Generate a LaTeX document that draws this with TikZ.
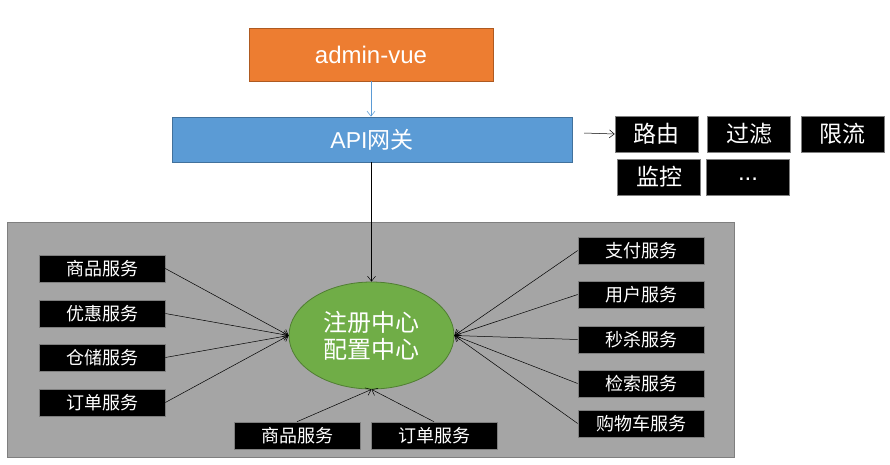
\documentclass[tikz,border=0pt]{standalone}
\usepackage{fontspec}
\setmainfont{Liberation Sans}
\newfontfamily\cjk{Noto Sans CJK SC}
\usetikzlibrary{shapes.geometric,arrows.meta}
\definecolor{orangeF}{HTML}{ED7D31}
\definecolor{orangeD}{HTML}{AE5A21}
\definecolor{blueF}{HTML}{5B9BD5}
\definecolor{blueD}{HTML}{41719C}
\definecolor{panelF}{HTML}{A5A5A5}
\definecolor{panelD}{HTML}{7F7F7F}
\definecolor{greenF}{HTML}{70AD47}
\definecolor{greenD}{HTML}{507E32}
\tikzset{
  topbox/.style={draw=orangeD, fill=orangeF, line width=0.8pt, minimum width=244pt, minimum height=53pt, inner sep=0pt, text=white, font=\fontsize{24}{26}\selectfont},
  gwbox/.style={draw=blueD, fill=blueF, line width=0.8pt, minimum width=400pt, minimum height=45pt, inner sep=0pt, text=white, font=\fontsize{23}{25}\selectfont},
  featbox/.style={draw=panelD, fill=black, line width=0.6pt, minimum width=83pt, minimum height=36pt, inner sep=0pt, text=white, font=\cjk\fontsize{23}{25}\selectfont},
  svcbox/.style={draw=panelD, fill=black, line width=0.6pt, minimum width=126pt, minimum height=27pt, inner sep=0pt, text=white, font=\cjk\fontsize{18}{20}\selectfont},
  panel/.style={draw=panelD, fill=panelF, line width=0.8pt, minimum width=727pt, minimum height=235pt, inner sep=0pt},
  hub/.style={ellipse, draw=greenD, fill=greenF, line width=0.8pt, minimum width=165pt, minimum height=107pt, inner sep=0pt, text=white, align=center, font=\cjk\fontsize{24}{27}\selectfont},
  link/.style={draw=black, line width=0.5pt, -{Straight Barb[length=5pt,width=8pt]}},
  bluelink/.style={draw=blueF, line width=0.6pt, -{Straight Barb[length=5pt,width=8pt]}},
}
\begin{document}
\begin{tikzpicture}[x=1pt,y=-1pt]
\useasboundingbox (0,0) rectangle (890,464);
\node[panel] (panel) at (370.5,339.5) {};
\node[topbox] (admin) at (371,54.5) {admin-vue};
\node[gwbox] (api) at (372,139.5) {API{\cjk 网关}};
\node[featbox] (route) at (656.5,134) {路由};
\node[featbox] (filter) at (749,134) {过滤};
\node[featbox] (limit) at (842.5,134) {限流};
\node[featbox] (monitor) at (659,177) {监控};
\node[featbox] (more) at (748,177) {\rmfamily\fontsize{24}{26}\selectfont\raisebox{-6pt}{...}};
\coordinate (apiout) at (584,133);
\node[hub] (hub) at (371.5,335.5) {注册中心\\配置中心};
\node[svcbox] (l1) at (102,268.5) {商品服务};
\node[svcbox] (l2) at (102,313.5) {优惠服务};
\node[svcbox] (l3) at (102,357.5) {仓储服务};
\node[svcbox] (l4) at (102,402.5) {订单服务};
\node[svcbox] (r1) at (641,250.5) {支付服务};
\node[svcbox] (r2) at (641,294.5) {用户服务};
\node[svcbox] (r3) at (641,339.5) {秒杀服务};
\node[svcbox] (r4) at (641,383.5) {检索服务};
\node[svcbox] (r5) at (641,423.5) {购物车服务};
\node[svcbox] (b1) at (297,435.5) {商品服务};
\node[svcbox] (b2) at (434,435.5) {订单服务};
\draw[bluelink] (admin.south) -- (admin.south |- api.north);
\draw[link] (apiout) -- (route.west);
\draw[link] (api.south -| hub.north) -- (hub.north);
\foreach \n in {l1,l2,l3,l4} \draw[link] (\n.east) -- (hub.west);
\foreach \n in {r1,r2,r3,r4,r5} \draw[link] (\n.west) -- (hub.east);
\foreach \n in {b1,b2} \draw[link] (\n.north) -- (hub.south);
\end{tikzpicture}
\end{document}
